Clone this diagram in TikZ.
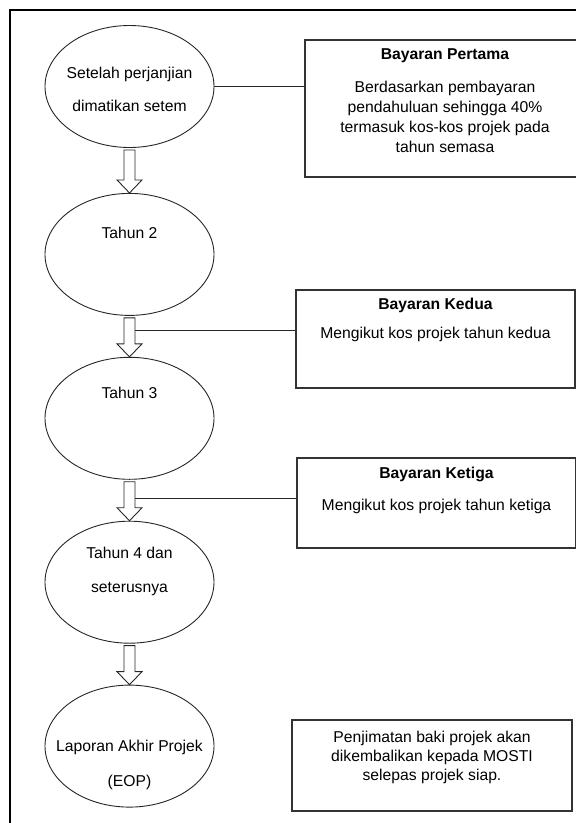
\documentclass[tikz,border=0pt]{standalone}
\usepackage{fontspec}
\setmainfont{Liberation Sans}
\usepackage{tikz}
\usetikzlibrary{positioning}
\usetikzlibrary{shapes.geometric,calc}

\tikzset{
  stage/.style={ellipse,draw=black!85,line width=.9pt,minimum width=169pt,minimum height=122pt,
    inner xsep=-20pt,inner ysep=-5pt,align=center},
  paybox/.style={rectangle,draw=black!80,line width=1.2pt,inner sep=0pt,align=center},
  blockarrow/.style={draw=black!85,line width=.9pt,to path={
    ([xshift=-5.5pt,yshift=-2pt]\tikztostart) -- ([xshift=-5.5pt,yshift=13pt]\tikztotarget)
    -- ([xshift=-12.5pt,yshift=13pt]\tikztotarget) -- (\tikztotarget)
    -- ([xshift=12.5pt,yshift=13pt]\tikztotarget) -- ([xshift=5.5pt,yshift=13pt]\tikztotarget)
    -- ([xshift=5.5pt,yshift=-2pt]\tikztostart) -- cycle}}
}

\begin{document}
\begin{tikzpicture}[x=1pt,y=-1pt,node distance=41pt,font=\fontsize{15.7pt}{20pt}\selectfont]
\useasboundingbox (0,0) rectangle (576,823);
% outer frame
\draw [line width=1.5pt] (10,823) -- (10,10) -- (576,10);

\node (tahun_one) [stage,text height=55pt,text depth=5pt] at (129.5,86.5)
  {Setelah perjanjian\\[13pt]dimatikan setem};
\node (tahun_two) [stage,text height=12pt,text depth=43pt,below=45pt of tahun_one] {Tahun 2};
\node (tahun_three) [stage,text height=11pt,text depth=50pt,below=of tahun_two] {Tahun 3};
\node (tahun_four) [stage,text height=45pt,text depth=25pt,below=of tahun_three]
  {Tahun 4 dan\\[14pt]seterusnya};
\node (laporan) [stage,text height=85pt,text depth=4pt,below=of tahun_four]
  {Laporan Akhir Projek\\[15pt](EOP)};

\node (bayar_satu) [paybox,minimum width=280pt,minimum height=137pt,text height=100pt,text depth=12pt] at (445,108.5)
  {\textbf{Bayaran Pertama}\\[13pt]Berdasarkan pembayaran\\pendahuluan sehingga 40\%\\termasuk kos-kos projek pada\\tahun semasa};
\node (bayar_dua) [paybox,minimum width=279pt,minimum height=98pt,text height=40pt,text depth=41pt] at (435.5,339)
  {\textbf{Bayaran Kedua}\\[9pt]Mengikut kos projek tahun kedua};
\node (bayar_tiga) [paybox,minimum width=279pt,minimum height=90pt,text height=45pt,text depth=30pt] at (436.5,503)
  {\textbf{Bayaran Ketiga}\\[12pt]Mengikut kos projek tahun ketiga};
\node (penjimatan) [paybox,minimum width=280pt,minimum height=91pt,text height=50pt,text depth=20pt] at (432,765.5)
  {Penjimatan baki projek akan\\[-1pt]dikembalikan kepada MOSTI\\[-1pt]selepas projek siap.};

\draw [blockarrow] (tahun_one.south) to (tahun_two.north);
\draw [blockarrow] (tahun_two.south) to (tahun_three.north);
\draw [blockarrow] (tahun_three.south) to (tahun_four.north);
\draw [blockarrow] (tahun_four.south) to (laporan.north);

\coordinate (dua_link) at ($(tahun_two.south)!0.36!(tahun_three.north)$);
\coordinate (tiga_link) at ($(tahun_three.south)!0.44!(tahun_four.north)$);
\draw [black!85] (tahun_one.east) -- (tahun_one.east -| bayar_satu.west);
\draw [black!85] ([xshift=5.5pt]dua_link) -- (dua_link -| bayar_dua.west);
\draw [black!85] ([xshift=5.5pt]tiga_link) -- (tiga_link -| bayar_tiga.west);
\end{tikzpicture}
\end{document}
